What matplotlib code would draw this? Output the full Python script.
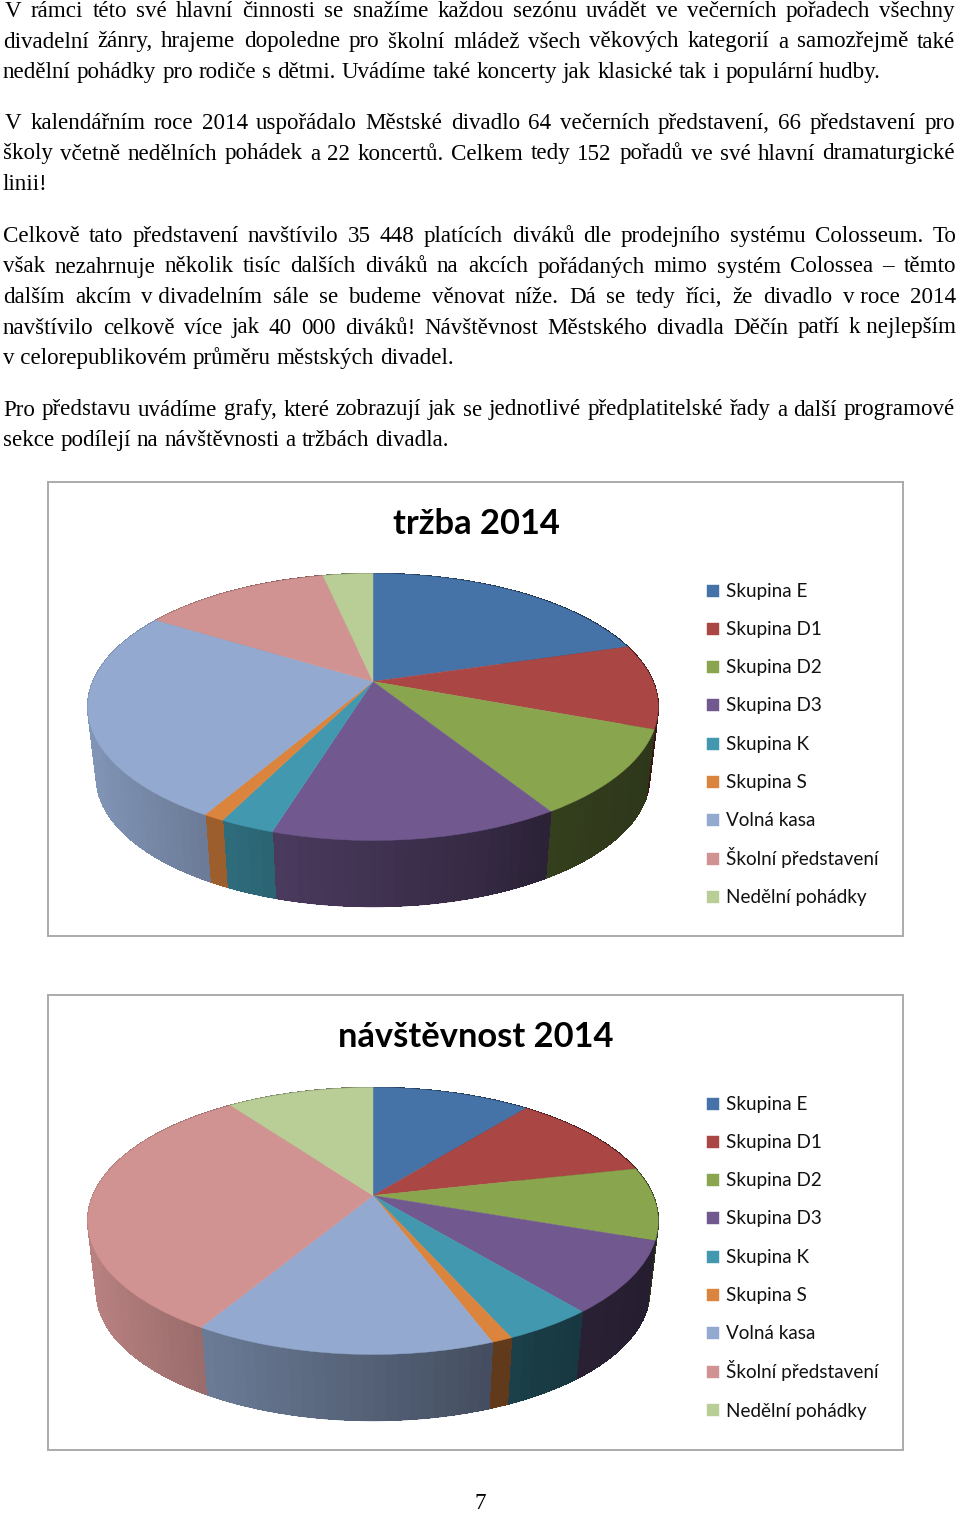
import numpy as np
import matplotlib
matplotlib.use("Agg")
import matplotlib.pyplot as plt
from matplotlib.collections import PolyCollection
from matplotlib.legend_handler import HandlerPatch
from matplotlib.patches import Rectangle
from matplotlib.path import Path
from matplotlib.transforms import Transform

categories = ["Skupina E", "Skupina D1", "Skupina D2", "Skupina D3", "Skupina K",
              "Skupina S", "Volná kasa", "Školní představení", "Nedělní pohádky"]
colors = ["#4572A7", "#AA4643", "#89A54E", "#71588F", "#4198AF",
          "#DB843D", "#93A9CF", "#D19392", "#B9CD96"]
trzba = [20.4, 10.25, 10.4, 13.68, 2.6, 1.0, 25.42, 12.8, 3.4]
navstevnost = [10.8, 10.75, 8.8, 8.67, 4.3, 1.0, 14.28, 31.42, 10.0]

body_lines = [
    (5, 955, 17, "V rámci této své hlavní činnosti se snažíme každou sezónu uvádět ve večerních pořadech všechny"),
    (3, 955, 47.5, "divadelní žánry, hrajeme dopoledne pro školní mládež všech věkových kategorií a samozřejmě také"),
    (3, 881, 78, "nedělní pohádky pro rodiče s dětmi. Uvádíme také koncerty jak klasické tak i populární hudby."),
    (5, 955, 129, "V kalendářním roce 2014 uspořádalo Městské divadlo 64 večerních představení, 66 představení pro"),
    (3, 955, 159.5, "školy včetně nedělních pohádek a 22 koncertů. Celkem tedy 152 pořadů ve své hlavní dramaturgické"),
    (3, 48, 190, "linii!"),
    (3, 956, 242, "Celkově tato představení navštívilo 35 448 platících diváků dle prodejního systému Colosseum. To"),
    (3, 956, 272.5, "však nezahrnuje několik tisíc dalších diváků na akcích pořádaných mimo systém Colossea – těmto"),
    (3, 956, 303, "dalším akcím v\u00a0divadelním sále se budeme věnovat níže. Dá se tedy říci, že divadlo v\u00a0roce 2014"),
    (3, 956, 333.5, "navštívilo celkově více jak 40 000 diváků! Návštěvnost Městského divadla Děčín patří k\u00a0nejlepším"),
    (3, 454, 364, "v\u00a0celorepublikovém průměru městských divadel."),
    (3, 955, 415.5, "Pro představu uvádíme grafy, které zobrazují jak se jednotlivé předplatitelské řady a další programové"),
    (3, 449, 446, "sekce podílejí na návštěvnosti a tržbách divadla."),
]

K, A, B = 0.191, 128.6, 280.0
WALL_X = [-1, -.55, -.3, .4, .6, 1]
WALL_F = [.88, .72, .65, .47, .39, .33]


class Persp(Transform):
    input_dims = output_dims = 2
    is_separable = False
    has_inverse = False

    def __init__(self, cx, cy):
        super().__init__()
        self.cx, self.cy = cx, cy

    def transform_non_affine(self, xy):
        xy = np.asarray(xy, float)
        d = 1 + K * xy[:, 1]
        return np.column_stack([self.cx + B * xy[:, 0] / d, self.cy - A * xy[:, 1] / d])

    def transform_path_non_affine(self, path):
        return Path(self.transform_non_affine(path.vertices), path.codes)


W, H = 960, 1513
fig = plt.figure(figsize=(W / 100, H / 100), dpi=100, facecolor="white")
bg = fig.add_axes([0, 0, 1, 1])
bg.set_xlim(0, W)
bg.set_ylim(H, 0)
bg.axis("off")
renderer = fig.canvas.get_renderer()
BODY = dict(family="Liberation Serif", fontsize=16.6, color="#000000", va="baseline", ha="left")
for x0, x1, y, line in body_lines:
    words = [bg.text(0, y, w, **BODY) for w in line.split(" ")]
    widths = [t.get_window_extent(renderer).width for t in words]
    gap = (x1 - x0 - sum(widths)) / max(len(words) - 1, 1)
    x = x0
    for t, w in zip(words, widths):
        t.set_x(x)
        x += w + gap
bg.text(480, 1509, "7", **{**BODY, "ha": "center"})

FS = 13.6
FPX = FS * 100 / 72
HANDLE_PX = 12
ROW_BOX_PX = 26
ROW_REAL_PX = ROW_BOX_PX - 0.35 * FPX * (ROW_BOX_PX / FPX - 0.7)


def square(legend, orig_handle, xdescent, ydescent, width, height, fontsize):
    side = HANDLE_PX * 0.72
    return Rectangle((-xdescent, 0.32 * fontsize - side / 2), side, side)


def chart(top, bottom, cy, title, values):
    ax = fig.add_axes([48 / W, 1 - bottom / H, (903 - 48) / W, (bottom - top) / H])
    wedges, _ = ax.pie(values, colors=colors, startangle=90, counterclock=False, radius=1)
    cx = 373
    tr = Persp(cx, cy)
    for w, c in zip(wedges, colors):
        w.set_transform(tr + ax.transData)
        w.set_edgecolor(c)
        w.set_linewidth(0.3)
    ax.set_aspect("auto")
    ax.set_xticks([])
    ax.set_yticks([])
    ax.set_frame_on(True)
    for s in ax.spines.values():
        s.set_color("#ababab")
        s.set_linewidth(1.4)
    # side wall, following the same slice angles
    edges = 90 - 360 * np.concatenate([[0], np.cumsum(values)]) / np.sum(values)
    polys, fcs, under, under_c = [], [], [], []
    for i, c in enumerate(colors):
        ang = np.radians(np.linspace(edges[i], edges[i + 1], max(int(abs(edges[i + 1] - edges[i]) / 2), 1) + 1))
        top_pts = tr.transform_non_affine(np.column_stack([np.cos(ang), np.sin(ang)]))
        bot_pts = np.column_stack([cx + .97 * (top_pts[:, 0] - cx), cy + .97 * (top_pts[:, 1] - cy) + 71.5])
        rgb = np.array(matplotlib.colors.to_rgb(c))
        under.append(np.vstack([top_pts, bot_pts[::-1]]))
        mid = (top_pts[len(ang) // 2, 0] - cx) / 286
        under_c.append(rgb * np.interp(mid, WALL_X, WALL_F))
        inner = bot_pts - [0, 0.8]
        for j in range(len(ang) - 1):
            polys.append([top_pts[j], top_pts[j + 1], inner[j + 1], inner[j]])
            f = np.interp((top_pts[j, 0] - cx) / 286, WALL_X, WALL_F)
            fcs.append(rgb * f)
    ax.add_collection(PolyCollection(under, facecolors=under_c, edgecolors="none", zorder=0.4))
    ax.add_collection(PolyCollection(polys, facecolors=fcs, edgecolors=fcs, linewidths=0.5,
                                     antialiaseds=False, zorder=0.5))
    ax.set_xlim(48, 903)
    ax.set_ylim(bottom, top)
    ax.text(476, top + 52, title, family="Lato", fontweight="bold", fontsize=24.8,
            color="#000000", ha="center", va="baseline")
    ax.legend(wedges, categories, loc="upper left", frameon=False,
              bbox_to_anchor=(707, top + 97.5), bbox_transform=ax.transData,
              prop=dict(family="Lato", size=FS), labelcolor="#111111",
              handler_map={w: HandlerPatch(patch_func=square) for w in wedges},
              handlelength=HANDLE_PX / FPX, handleheight=ROW_BOX_PX / FPX, handletextpad=7 / FPX,
              labelspacing=(38.25 - ROW_REAL_PX) / FPX, borderpad=0, borderaxespad=0)
    return ax


chart(482, 936, 681.5, "tržba 2014", trzba)
chart(995, 1450, 1195.5, "návštěvnost 2014", navstevnost)
fig.savefig("out.png", dpi=100, facecolor="white")
